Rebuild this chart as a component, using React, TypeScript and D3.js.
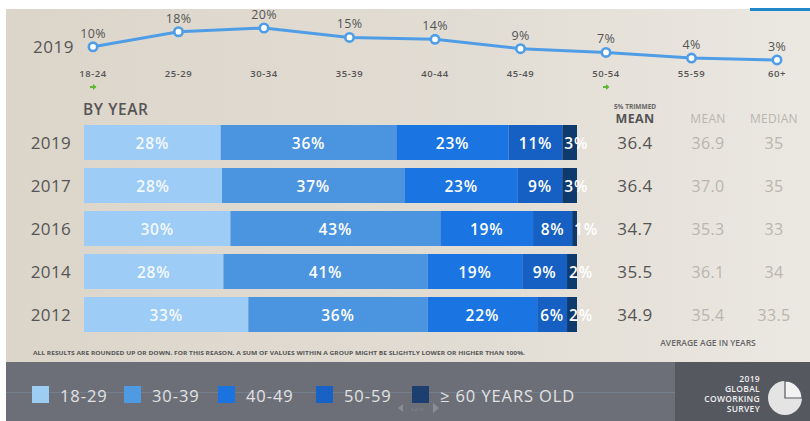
import React from 'react'
import * as d3 from 'd3'

// age distribution 2019 (top line)
const ageGroups = ['18-24', '25-29', '30-34', '35-39', '40-44', '45-49', '50-54', '55-59', '60+']
const ageShare2019 = [10, 18, 20, 15, 14, 9, 7, 4, 3]
const arrowGroups = ['18-24', '50-54']

// stacked bars by year
const years = ['2019', '2017', '2016', '2014', '2012']
const bands = ['18-29', '30-39', '40-49', '50-59', '≥ 60 YEARS OLD']
const share18_29 = [28, 28, 30, 28, 33]
const share30_39 = [36, 37, 43, 41, 36]
const share40_49 = [23, 23, 19, 19, 22]
const share50_59 = [11, 9, 8, 9, 6]
const share60 = [3, 3, 1, 2, 2]

// average age columns
const trimmedMean = ['36.4', '36.4', '34.7', '35.5', '34.9']
const meanAge = ['36.9', '37.0', '35.3', '36.1', '35.4']
const medianAge = ['35', '35', '33', '34', '33.5']

const bandColors = ['#9dccf6', '#4a94e0', '#1a74e2', '#1560c2', '#0f3a6e']
const legendColors = ['#9ecdf3', '#4f9be2', '#1b73e0', '#1762c4', '#1c3f70']

const FONT = '"Open Sans", "DejaVu Sans", sans-serif'

export default function App() {
  const W = 810
  const H = 421

  // line chart scales
  const xLine = d3.scalePoint<string>().domain(ageGroups).range([93, 777])
  const yLine = d3.scaleLinear().domain([0, 20]).range([65.6, 28])
  const line = d3.line<number>()
    .x((_, i) => xLine(ageGroups[i]) as number)
    .y(d => yLine(d))

  // bar scales
  const yBar = d3.scaleBand<string>().domain(years).range([125, 125 + 43 * 5 - 8]).paddingInner(8 / 43).paddingOuter(0)
  const series = [share18_29, share30_39, share40_49, share50_59, share60]

  const legendX = [32, 124, 218, 316, 412]

  return (
    <svg width={W} height={H} style={{ position: 'absolute', left: 0, top: 0, fontFamily: FONT }}>
      <defs>
        <linearGradient id="bg" x1="0" x2="1" y1="0" y2="0">
          <stop offset="0" stopColor="#dcd5ca" />
          <stop offset="0.6" stopColor="#e2ddd4" />
          <stop offset="1" stopColor="#ebe8e2" />
        </linearGradient>
      </defs>
      <rect x={0} y={0} width={W} height={H} fill="#ffffff" />
      <rect x={6} y={9} width={W - 6} height={353} fill="url(#bg)" />
      <rect x={750} y={8} width={60} height={3} fill="#1e88c8" />

      {/* top line chart */}
      <text x={33} y={53} fontSize={17} fill="#555" fontWeight={500} letterSpacing={0.5}>2019</text>
      <path d={line(ageShare2019) || ''} fill="none" stroke="#4f9de6" strokeWidth={3} />
      {ageShare2019.map((v, i) => {
        const cx = xLine(ageGroups[i]) as number
        const cy = yLine(v)
        return (
          <g key={ageGroups[i]}>
            <circle cx={cx} cy={cy} r={4.2} fill="#fff" stroke="#4f9de6" strokeWidth={2.6} />
            <text x={cx} y={cy - 9} textAnchor="middle" fontSize={12.5} fontWeight={500} fill="#555" letterSpacing={0.3}>{v}%</text>
            <text x={cx} y={77} textAnchor="middle" fontSize={9.5} fontWeight={600} fill="#555" letterSpacing={0.5}>{ageGroups[i]}</text>
          </g>
        )
      })}
      {arrowGroups.map(g => {
        const cx = xLine(g) as number
        return <path key={g} d={`M${cx - 3},${86} h3 v-2 l3.5,3 l-3.5,3 v-2 h-3 z`} fill="#5cb82e" />
      })}

      {/* bars by year */}
      <text x={83} y={115} fontSize={15.5} fill="#555" fontWeight={600} letterSpacing={0.6}>BY YEAR</text>
      {years.map((yr, r) => {
        const vals = series.map(s => s[r])
        const total = d3.sum(vals)
        const x = d3.scaleLinear().domain([0, total]).range([84, 577])
        const y0 = yBar(yr) as number
        const bh = yBar.bandwidth()
        let acc = 0
        return (
          <g key={yr}>
            <text x={51} y={y0 + bh / 2} textAnchor="middle" dominantBaseline="central" fontSize={17} fontWeight={500} fill="#555" letterSpacing={0.4}>{yr}</text>
            {vals.map((v, k) => {
              const xs = x(acc)
              acc += v
              const xe = x(acc)
              const small = v < 5
              return (
                <g key={k}>
                  <rect x={xs} y={y0} width={xe - xs} height={bh} fill={bandColors[k]} />
                  <text
                    x={small ? xs + 2 : (xs + xe) / 2}
                    y={y0 + bh / 2}
                    textAnchor={small ? 'start' : 'middle'}
                    dominantBaseline="central"
                    fontSize={15.5}
                    fontWeight={600}
                    letterSpacing={0.8}
                    fill="#fff"
                    fillOpacity={k === 0 ? 0.9 : 1}
                  >{v}%</text>
                </g>
              )
            })}
            <text x={635} y={y0 + bh / 2} textAnchor="middle" dominantBaseline="central" fontSize={17} fontWeight={500} fill="#555" letterSpacing={0.5}>{trimmedMean[r]}</text>
            <text x={708} y={y0 + bh / 2} textAnchor="middle" dominantBaseline="central" fontSize={16} fill="#bab5ad" letterSpacing={0.3}>{meanAge[r]}</text>
            <text x={774} y={y0 + bh / 2} textAnchor="middle" dominantBaseline="central" fontSize={16} fill="#bab5ad" letterSpacing={0.3}>{medianAge[r]}</text>
          </g>
        )
      })}

      {/* column headers */}
      <text x={635} y={108.5} textAnchor="middle" fontSize={6.5} fontWeight={700} fill="#666">5% TRIMMED</text>
      <text x={635} y={123} textAnchor="middle" fontSize={12.5} fontWeight={700} fill="#555" letterSpacing={0.3}>MEAN</text>
      <text x={708} y={123} textAnchor="middle" fontSize={12} fill="#bab5ad" letterSpacing={0.3}>MEAN</text>
      <text x={774} y={123} textAnchor="middle" fontSize={12} fill="#bab5ad" letterSpacing={0.3}>MEDIAN</text>
      <text x={708} y={346} textAnchor="middle" fontSize={8.5} fontWeight={600} fill="#666">AVERAGE AGE IN YEARS</text>

      <text x={33} y={355} fontSize={6} fontWeight={700} fill="#555" textLength={492} lengthAdjust="spacingAndGlyphs">
        ALL RESULTS ARE ROUNDED UP OR DOWN. FOR THIS REASON, A SUM OF VALUES WITHIN A GROUP MIGHT BE SLIGHTLY LOWER OR HIGHER THAN 100%.
      </text>

      {/* bottom legend bar */}
      <rect x={6} y={362} width={W - 6} height={59} fill="#6c6f77" />
      <rect x={6} y={392} width={669} height={1} fill="#7b8ea3" opacity={0.5} />
      <rect x={675} y={362} width={135} height={59} fill="#55585f" />
      {bands.map((b, i) => (
        <g key={b}>
          <rect x={legendX[i]} y={386} width={17} height={17} fill={legendColors[i]} />
          <text x={legendX[i] + 28} y={395} dominantBaseline="central" fontSize={16.5} fill="#e2e2e4" letterSpacing={0.9}>{b}</text>
        </g>
      ))}
      <path d="M403,404 l-5,4 l5,4 z" fill="#8a8d94" />
      <text x={417} y={410.5} textAnchor="middle" fontSize={4} fill="#8a8d94">3 of 13</text>
      <path d="M433,403 l6,5 l-6,5 z" fill="#8a8d94" />

      <g fontSize={8.5} fontWeight={600} fill="#eeeeee" textAnchor="end" letterSpacing={0.3}>
        <text x={760} y={382}>2019</text>
        <text x={760} y={392}>GLOBAL</text>
        <text x={760} y={402}>COWORKING</text>
        <text x={760} y={412}>SURVEY</text>
      </g>
      <circle cx={785} cy={398} r={17} fill="#e4e4e4" />
      <path d="M785,398 V381 A17,17 0 0 1 802,398 Z" fill="#f2f2f2" stroke="#55585f" strokeWidth={1.2} />
    </svg>
  )
}
